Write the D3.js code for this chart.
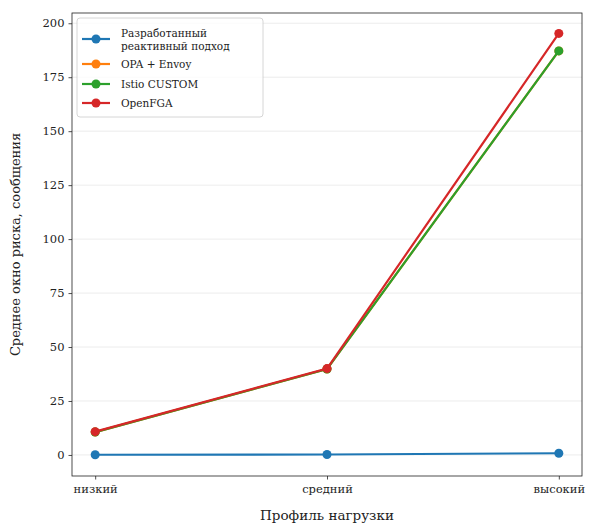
<!DOCTYPE html>
<html>
<head>
<meta charset="utf-8">
<script src="https://cdn.jsdelivr.net/npm/d3@7"></script>
<style>
  body { margin: 0; background: #fff; }
  text { font-family: "DejaVu Serif", serif; fill: #222; }
</style>
</head>
<body>
<svg width="592" height="527"></svg>
<script>
var categories = ['низкий', 'средний', 'высокий'];
var seriesNames = ['Разработанный реактивный подход', 'OPA + Envoy', 'Istio CUSTOM', 'OpenFGA'];
var reactiveValues = [0.1, 0.2, 0.8];
var opaValues = [10.6, 39.8, 187.2];
var istioValues = [10.6, 39.8, 187.2];
var openfgaValues = [10.8, 40.0, 195.3];
var yTicks = [0, 25, 50, 75, 100, 125, 150, 175, 200];
var colors = ['#1f77b4', '#ff7f0e', '#2ca02c', '#d62728'];

var series = [reactiveValues, opaValues, istioValues, openfgaValues];

var plotLeft = 72, plotRight = 582, plotTop = 13, plotBottom = 476;

var svg = d3.select('svg');

var scaleX = d3.scaleLinear().domain([-0.1, 2.1]).range([plotLeft, plotRight]);
var scaleY = d3.scaleLinear().domain([-9.75, 204.75]).range([plotBottom, plotTop]);

// grid
svg.append('g')
    .selectAll('line')
    .data(yTicks)
    .enter()
    .append('line')
    .attr('x1', plotLeft).attr('x2', plotRight)
    .attr('y1', function(d){ return scaleY(d); })
    .attr('y2', function(d){ return scaleY(d); })
    .attr('stroke', '#b0b0b0')
    .attr('stroke-opacity', 0.3)
    .attr('stroke-width', 0.8);

// axes
var xAxis = svg.append('g')
    .attr('transform', 'translate(0,' + plotBottom + ')')
    .call(d3.axisBottom(scaleX).tickValues([0, 1, 2])
        .tickFormat(function(d){ return categories[d]; })
        .tickSize(3.5).tickPadding(5));
var yAxis = svg.append('g')
    .attr('transform', 'translate(' + plotLeft + ',0)')
    .call(d3.axisLeft(scaleY).tickValues(yTicks).tickSize(3.5).tickPadding(4));

[xAxis, yAxis].forEach(function(a){
    a.select('.domain').remove();
    a.selectAll('line').attr('stroke', '#222').attr('stroke-width', 0.8);
    a.selectAll('text').attr('font-family', '"DejaVu Serif", serif')
        .attr('font-size', 11.5).attr('fill', '#222');
});

svg.append('rect')
    .attr('x', plotLeft).attr('y', plotTop)
    .attr('width', plotRight - plotLeft).attr('height', plotBottom - plotTop)
    .attr('fill', 'none').attr('stroke', '#222').attr('stroke-width', 0.8);

// lines
var line = d3.line()
    .x(function(d, i){ return scaleX(i); })
    .y(function(d){ return scaleY(d); });

series.forEach(function(vals, k){
    var g = svg.append('g');
    g.append('path')
        .datum(vals)
        .attr('d', line)
        .attr('fill', 'none')
        .attr('stroke', colors[k])
        .attr('stroke-width', 2.2);
    g.selectAll('circle')
        .data(vals)
        .enter()
        .append('circle')
        .attr('cx', function(d, i){ return scaleX(i); })
        .attr('cy', function(d){ return scaleY(d); })
        .attr('r', 4.5)
        .attr('fill', colors[k]);
});

// axis titles
svg.append('text')
    .attr('x', (plotLeft + plotRight) / 2)
    .attr('y', 520)
    .attr('text-anchor', 'middle')
    .attr('font-size', 13.5)
    .text('Профиль нагрузки');

svg.append('text')
    .attr('transform', 'translate(20,' + ((plotTop + plotBottom) / 2) + ') rotate(-90)')
    .attr('text-anchor', 'middle')
    .attr('font-size', 13)
    .text('Среднее окно риска, сообщения');

// legend
var legend = svg.append('g').attr('transform', 'translate(77,18)');
legend.append('rect')
    .attr('width', 186).attr('height', 99)
    .attr('rx', 3)
    .attr('fill', '#fff').attr('fill-opacity', 0.8)
    .attr('stroke', '#ccc').attr('stroke-width', 0.8);

var labelLines = [['Разработанный', 'реактивный подход'], ['OPA + Envoy'], ['Istio CUSTOM'], ['OpenFGA']];
var rowY = [21, 46, 66, 85];
labelLines.forEach(function(lines, k){
    var y = rowY[k];
    legend.append('line')
        .attr('x1', 5).attr('x2', 33)
        .attr('y1', y).attr('y2', y)
        .attr('stroke', colors[k]).attr('stroke-width', 2.2);
    legend.append('circle')
        .attr('cx', 19).attr('cy', y).attr('r', 4.5)
        .attr('fill', colors[k]);
    var t = legend.append('text')
        .attr('x', 44)
        .attr('font-size', 10.5);
    lines.forEach(function(s, j){
        t.append('tspan')
            .attr('x', 44)
            .attr('y', y + 4 + (lines.length > 1 ? (j - 0.5) * 13 : 0))
            .text(s);
    });
});
</script>
</body>
</html>
